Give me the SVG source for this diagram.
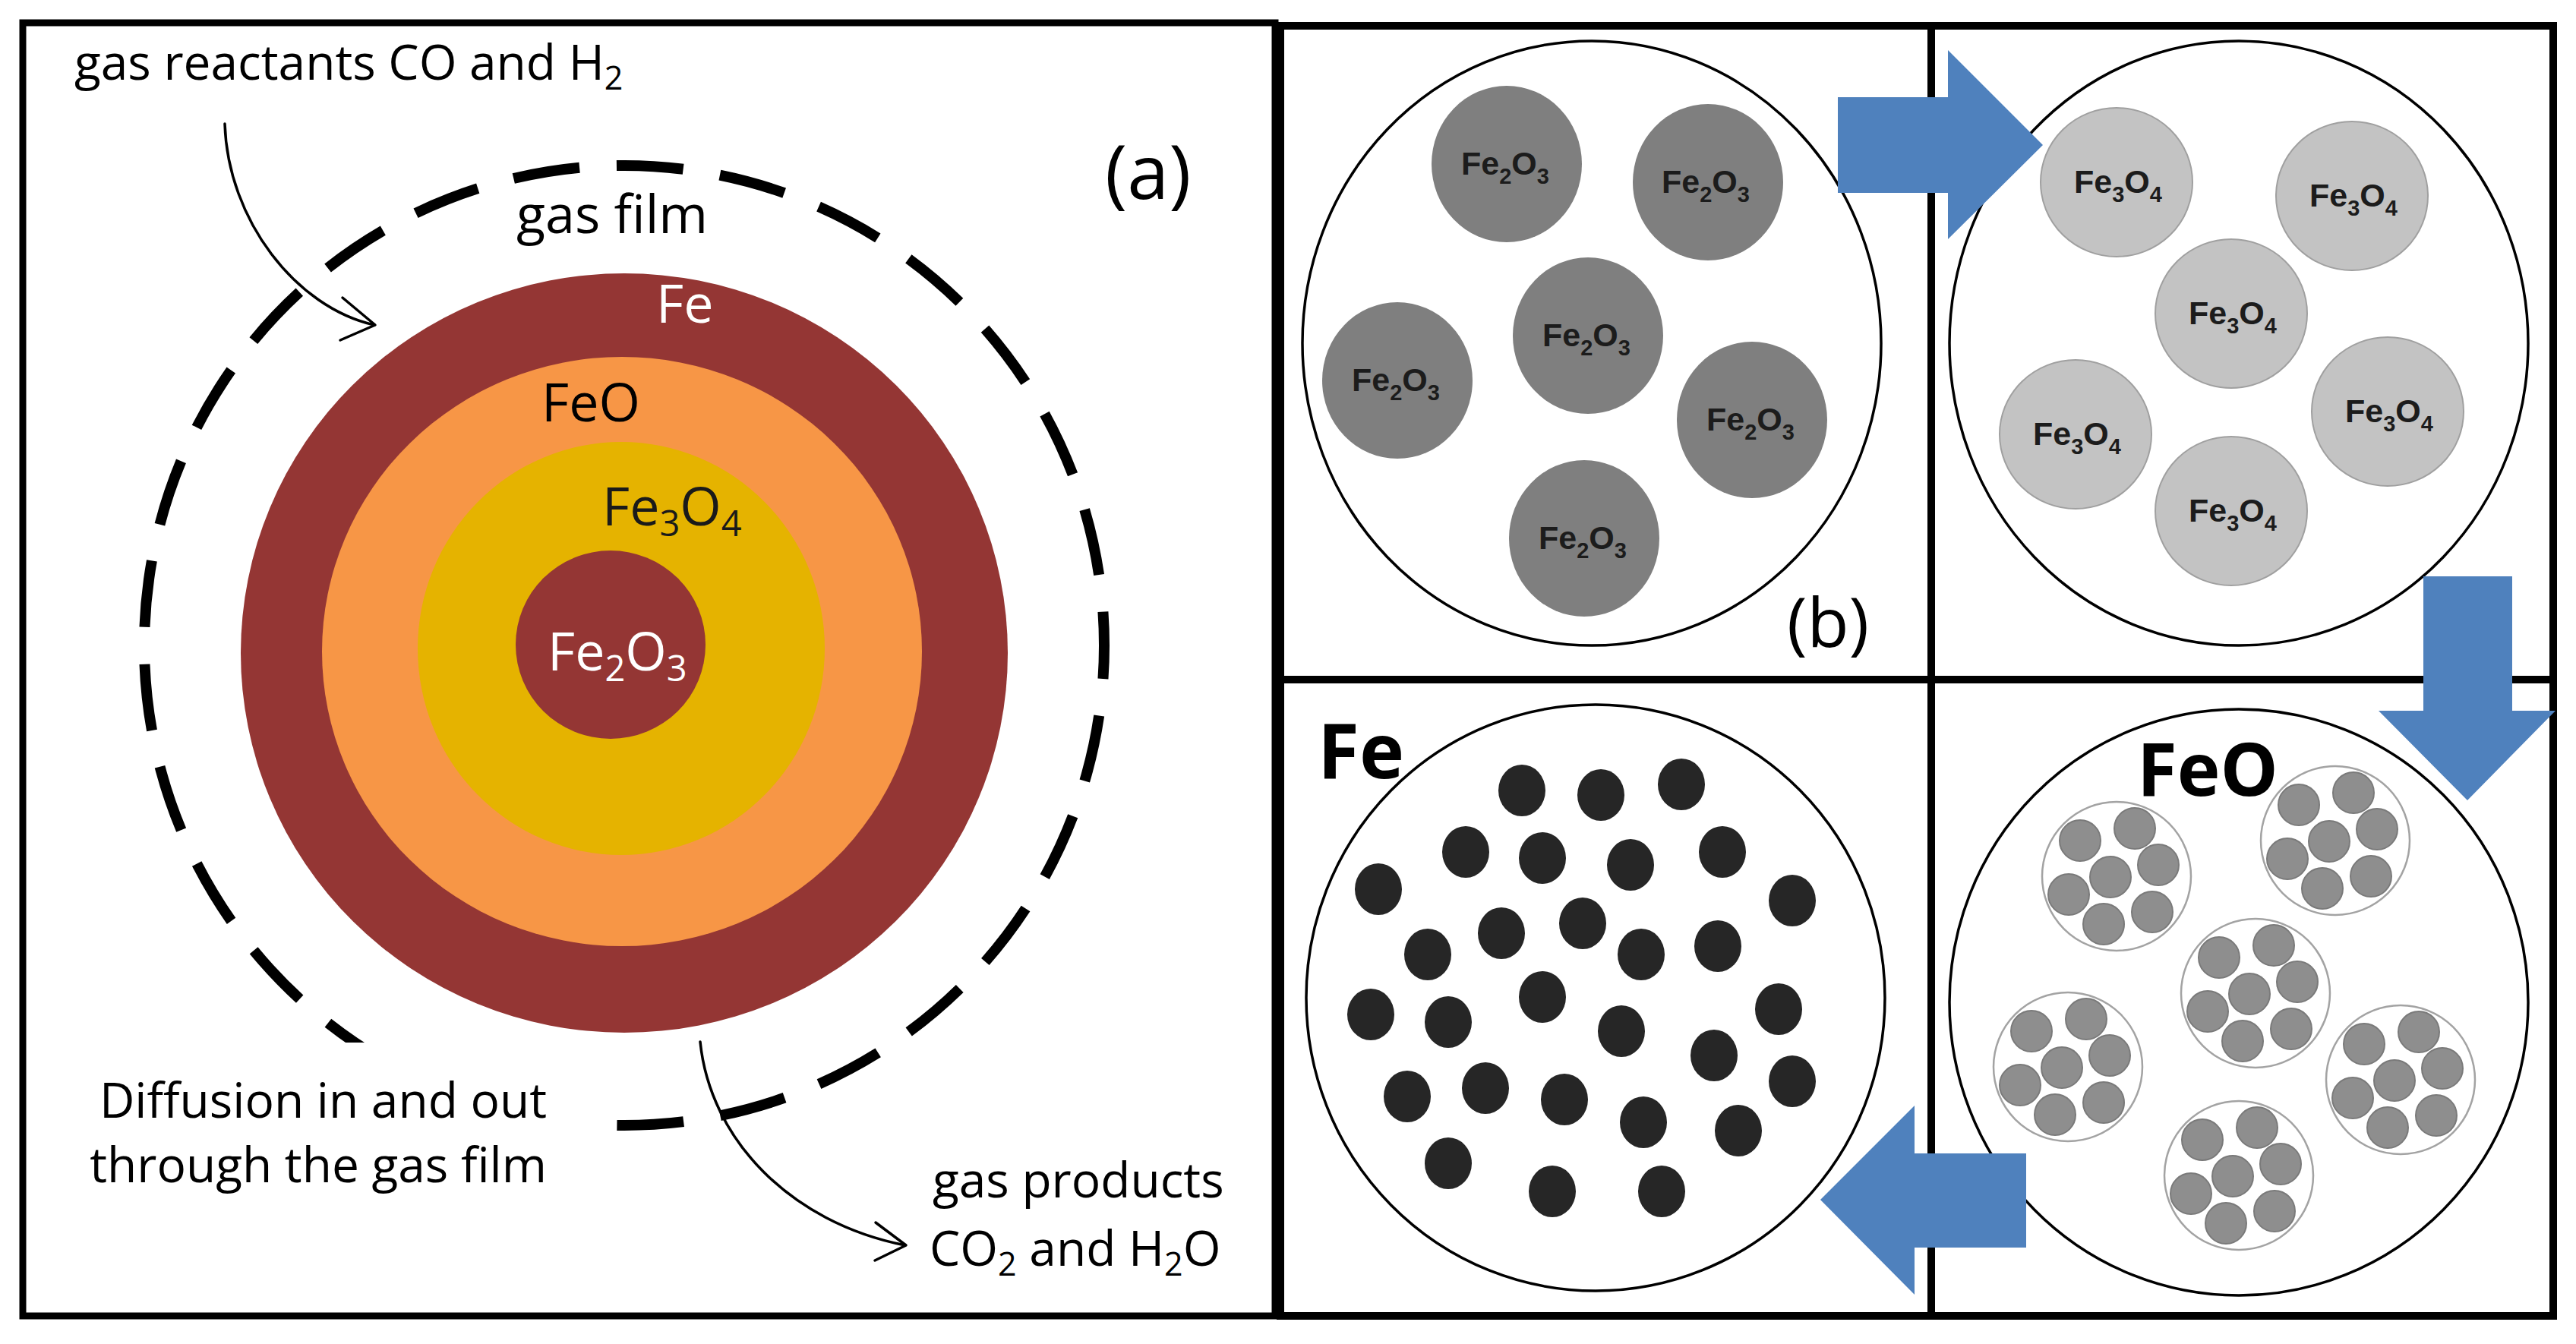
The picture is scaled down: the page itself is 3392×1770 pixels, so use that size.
<svg xmlns="http://www.w3.org/2000/svg" xmlns:xlink="http://www.w3.org/1999/xlink" width="3392" height="1770" viewBox="0 0 3392 1770">
<style>
.frame{fill:none;stroke:#000;stroke-width:9}
.os{font-family:"Open Sans","Noto Sans",sans-serif;font-size:64px;fill:#000}
.big70{font-size:70px}
.sb{font-size:43px}
.sb70{font-size:47px}
.arr{fill:none;stroke:#000;stroke-width:3.5;stroke-linecap:round;stroke-linejoin:round}
.big{fill:#fff;stroke:#000;stroke-width:3.5}
.p2{fill:#7f7f7f}
.p3{fill:#c3c3c3;stroke:#a0a0a0;stroke-width:2}
.pl{font-family:"Liberation Sans",Arial,sans-serif;font-size:43px;font-weight:bold;fill:#1c1c1c;text-anchor:middle}
.ps{font-size:29px}
.dot{fill:#262626}
.blue{fill:#4f81bd}
.bold{font-family:"Open Sans","Noto Sans",sans-serif;font-weight:bold;fill:#000}
.cl{fill:none;stroke:#a3a3a3;stroke-width:2.5}
.ci{fill:#8e8e8e;stroke:#7a7a7a;stroke-width:2}
</style>
<defs>
<g id="cluster">
<circle class="cl" cx="0" cy="0" r="98"/>
<circle class="ci" cx="-48" cy="-47" r="27"/>
<circle class="ci" cx="24" cy="-63" r="27"/>
<circle class="ci" cx="55" cy="-15" r="27"/>
<circle class="ci" cx="-8" cy="1" r="27"/>
<circle class="ci" cx="-63" cy="24" r="27"/>
<circle class="ci" cx="47" cy="47" r="27"/>
<circle class="ci" cx="-17" cy="63" r="27"/>
</g>
</defs>
<rect width="3392" height="1770" fill="#fff"/>

<g id="panel-a">
<rect class="frame" x="30" y="30" width="1649" height="1703"/>
<circle id="gas-film" cx="822" cy="850" r="632" fill="none" stroke="#000" stroke-width="14" stroke-dasharray="88 48.9" stroke-dashoffset="44"/>
<g id="particle">
<ellipse cx="822" cy="860" rx="505" ry="500" fill="#943634"/>
<ellipse cx="819" cy="858" rx="395" ry="388" fill="#f79646"/>
<ellipse cx="818" cy="854" rx="268" ry="272" fill="#e5b300"/>
<ellipse cx="804" cy="849" rx="125" ry="124" fill="#943634"/>
</g>
<rect x="38" y="1373" width="728" height="229" fill="#fff"/>
<text class="os" x="98" y="105">gas reactants CO and H<tspan class="sb" dy="13">2</tspan></text>
<text class="os" x="1455" y="262" style="font-size:99px">(a)</text>
<text class="os big70" x="680" y="307">gas film</text>
<text class="os big70" x="864" y="425" style="fill:#fff">Fe</text>
<text class="os big70" x="713" y="555">FeO</text>
<text class="os big70" x="793" y="692" style="fill:#1a1a1a">Fe<tspan class="sb70" dy="14">3</tspan><tspan dy="-14">O</tspan><tspan class="sb70" dy="14">4</tspan></text>
<text class="os big70" x="721" y="883" style="fill:#fff">Fe<tspan class="sb70" dy="14">2</tspan><tspan dy="-14">O</tspan><tspan class="sb70" dy="14">3</tspan></text>
<text class="os" x="720" y="1472" text-anchor="end">Diffusion in and out</text>
<text class="os" x="720" y="1557" text-anchor="end">through the gas film</text>
<text class="os" x="1228" y="1577">gas products</text>
<text class="os" x="1224" y="1667">CO<tspan class="sb" dy="13">2</tspan><tspan dy="-13"> and H</tspan><tspan class="sb" dy="13">2</tspan><tspan dy="-13">O</tspan></text>
</g>

<g id="panel-b-frame">
<rect class="frame" x="1686" y="34" width="1676" height="1699" style="stroke-width:10"/>
<line x1="2543" y1="34" x2="2543" y2="1733" stroke="#000" stroke-width="10"/>
<line x1="1686" y1="895" x2="3362" y2="895" stroke="#000" stroke-width="10"/>
</g>

<g id="q1-fe2o3">
<ellipse class="big" cx="2096" cy="452" rx="381" ry="398"/>
<ellipse class="p2" cx="1984" cy="216" rx="99" ry="103"/>
<ellipse class="p2" cx="2249" cy="240" rx="99" ry="103"/>
<ellipse class="p2" cx="2091" cy="442" rx="99" ry="103"/>
<ellipse class="p2" cx="1840" cy="501" rx="99" ry="103"/>
<ellipse class="p2" cx="2307" cy="553" rx="99" ry="103"/>
<ellipse class="p2" cx="2086" cy="709" rx="99" ry="103"/>
<text class="pl" x="1982" y="230">Fe<tspan class="ps" dy="12">2</tspan><tspan dy="-12">O</tspan><tspan class="ps" dy="12">3</tspan></text>
<text class="pl" x="2246" y="254">Fe<tspan class="ps" dy="12">2</tspan><tspan dy="-12">O</tspan><tspan class="ps" dy="12">3</tspan></text>
<text class="pl" x="2089" y="456">Fe<tspan class="ps" dy="12">2</tspan><tspan dy="-12">O</tspan><tspan class="ps" dy="12">3</tspan></text>
<text class="pl" x="1838" y="515">Fe<tspan class="ps" dy="12">2</tspan><tspan dy="-12">O</tspan><tspan class="ps" dy="12">3</tspan></text>
<text class="pl" x="2305" y="567">Fe<tspan class="ps" dy="12">2</tspan><tspan dy="-12">O</tspan><tspan class="ps" dy="12">3</tspan></text>
<text class="pl" x="2084" y="723">Fe<tspan class="ps" dy="12">2</tspan><tspan dy="-12">O</tspan><tspan class="ps" dy="12">3</tspan></text>
<text class="os" x="2353" y="852" style="font-size:90px">(b)</text>
</g>

<g id="q2-fe3o4">
<ellipse class="big" cx="2948" cy="452" rx="381" ry="398"/>
<ellipse class="p3" cx="2787" cy="240" rx="100" ry="98"/>
<ellipse class="p3" cx="3097" cy="258" rx="100" ry="98"/>
<ellipse class="p3" cx="2938" cy="413" rx="100" ry="98"/>
<ellipse class="p3" cx="2733" cy="572" rx="100" ry="98"/>
<ellipse class="p3" cx="3144" cy="542" rx="100" ry="98"/>
<ellipse class="p3" cx="2938" cy="673" rx="100" ry="98"/>
<text class="pl" x="2789" y="254">Fe<tspan class="ps" dy="12">3</tspan><tspan dy="-12">O</tspan><tspan class="ps" dy="12">4</tspan></text>
<text class="pl" x="3099" y="272">Fe<tspan class="ps" dy="12">3</tspan><tspan dy="-12">O</tspan><tspan class="ps" dy="12">4</tspan></text>
<text class="pl" x="2940" y="427">Fe<tspan class="ps" dy="12">3</tspan><tspan dy="-12">O</tspan><tspan class="ps" dy="12">4</tspan></text>
<text class="pl" x="2735" y="586">Fe<tspan class="ps" dy="12">3</tspan><tspan dy="-12">O</tspan><tspan class="ps" dy="12">4</tspan></text>
<text class="pl" x="3146" y="556">Fe<tspan class="ps" dy="12">3</tspan><tspan dy="-12">O</tspan><tspan class="ps" dy="12">4</tspan></text>
<text class="pl" x="2940" y="687">Fe<tspan class="ps" dy="12">3</tspan><tspan dy="-12">O</tspan><tspan class="ps" dy="12">4</tspan></text>
</g>

<g id="q3-fe">
<ellipse class="big" cx="2101" cy="1314" rx="381" ry="386"/>
<g class="dot">
<ellipse cx="2004" cy="1041" rx="31" ry="34"/>
<ellipse cx="2108" cy="1047" rx="31" ry="34"/>
<ellipse cx="2214" cy="1033" rx="31" ry="34"/>
<ellipse cx="1930" cy="1122" rx="31" ry="34"/>
<ellipse cx="2031" cy="1130" rx="31" ry="34"/>
<ellipse cx="2147" cy="1139" rx="31" ry="34"/>
<ellipse cx="2268" cy="1122" rx="31" ry="34"/>
<ellipse cx="1815" cy="1171" rx="31" ry="34"/>
<ellipse cx="2360" cy="1186" rx="31" ry="34"/>
<ellipse cx="1880" cy="1257" rx="31" ry="34"/>
<ellipse cx="1977" cy="1229" rx="31" ry="34"/>
<ellipse cx="2084" cy="1216" rx="31" ry="34"/>
<ellipse cx="2161" cy="1257" rx="31" ry="34"/>
<ellipse cx="2262" cy="1246" rx="31" ry="34"/>
<ellipse cx="1805" cy="1336" rx="31" ry="34"/>
<ellipse cx="1907" cy="1346" rx="31" ry="34"/>
<ellipse cx="2031" cy="1313" rx="31" ry="34"/>
<ellipse cx="2135" cy="1358" rx="31" ry="34"/>
<ellipse cx="2342" cy="1329" rx="31" ry="34"/>
<ellipse cx="2257" cy="1390" rx="31" ry="34"/>
<ellipse cx="1853" cy="1444" rx="31" ry="34"/>
<ellipse cx="1956" cy="1433" rx="31" ry="34"/>
<ellipse cx="2060" cy="1448" rx="31" ry="34"/>
<ellipse cx="2164" cy="1478" rx="31" ry="34"/>
<ellipse cx="2289" cy="1489" rx="31" ry="34"/>
<ellipse cx="2360" cy="1424" rx="31" ry="34"/>
<ellipse cx="1907" cy="1532" rx="31" ry="34"/>
<ellipse cx="2044" cy="1569" rx="31" ry="34"/>
<ellipse cx="2188" cy="1569" rx="31" ry="34"/>
</g>
<text class="bold" x="1735" y="1025" font-size="100">Fe</text>
</g>

<g id="q4-feo">
<ellipse class="big" cx="2948" cy="1320" rx="381" ry="386"/>
<use xlink:href="#cluster" href="#cluster" x="2787" y="1154"/>
<use xlink:href="#cluster" href="#cluster" x="3075" y="1107"/>
<use xlink:href="#cluster" href="#cluster" x="2970" y="1308"/>
<use xlink:href="#cluster" href="#cluster" x="2723" y="1405"/>
<use xlink:href="#cluster" href="#cluster" x="3161" y="1422"/>
<use xlink:href="#cluster" href="#cluster" x="2948" y="1548"/>
<text class="bold" x="2814" y="1048" font-size="96">FeO</text>
</g>

<g id="connectors">
<path class="arr" d="M296,163 C300,290 390,405 493,428"/>
<path class="arr" d="M451,392 L494,428 L448,448"/>
<path class="arr" d="M922,1372 C935,1500 1040,1610 1192,1640"/>
<path class="arr" d="M1153,1610 L1193,1640 L1152,1660"/>
<polygon class="blue" points="2420,128 2565,128 2565,66 2690,191 2565,315 2565,254 2420,254"/>
<polygon class="blue" points="3191,759 3308,759 3308,936 3365,936 3249,1054 3132,936 3191,936"/>
<polygon class="blue" points="2668,1519 2521,1519 2521,1456 2397,1580 2521,1705 2521,1643 2668,1643"/>
</g>
</svg>
